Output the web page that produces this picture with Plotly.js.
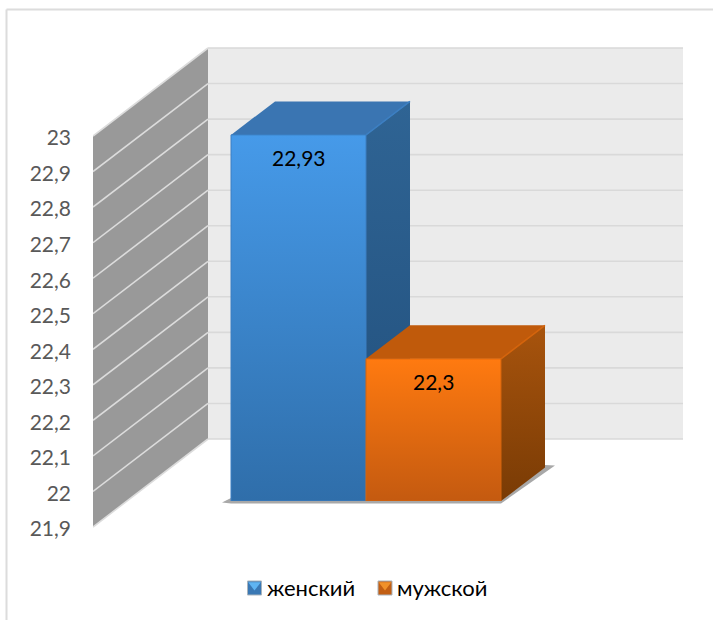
<!DOCTYPE html>
<html>
<head>
<meta charset="utf-8">
<script src="https://cdn.plot.ly/plotly-3.0.1.min.js"></script>
<style>html,body{margin:0;padding:0;background:#fff}#chart{width:713px;height:620px}</style>
</head>
<body>
<div id="chart"></div>
<script>
// Series
const seriesNames = ['женский', 'мужской'];
const seriesValues = [22.93, 22.3];
const tickValues = [21.9, 22, 22.1, 22.2, 22.3, 22.4, 22.5, 22.6, 22.7, 22.8, 22.9, 23];

// Pseudo-3D projection, all in screen pixels
const W = 713, H = 620;
const plotL = 93, plotT = 30, plotB = 612;
const pxPerUnit = 355.45, pxPerBar = 135;
const axisMin = 21.9, axisMax = 23;
const wallFrontBase = 527, barBase = 501, firstBarLeft = 231;
const wallDx = 115, wallDy = 88, wallRight = 683;
const barDx = 44, barDy = 33.5;

// px helpers for the shared x axis and the wall y axis
const xOf = px => (px - firstBarLeft) / pxPerBar - 0.5;
const yOf = px => axisMin + (wallFrontBase - px) / pxPerUnit;
const dxOf = px => px / pxPerBar;
const dyOf = px => px / pxPerUnit;

const traces = [];
const poly = (xs, ys, yaxis, extra) => traces.push(Object.assign({
  type: 'scatter', mode: 'lines', x: xs.concat(xs[0]), y: ys.concat(ys[0]),
  yaxis: yaxis, fill: 'toself', line: {width: 0}, hoverinfo: 'skip', showlegend: false
}, extra));
const seg = (xs, ys, yaxis, color, width) => traces.push({
  type: 'scatter', mode: 'lines', x: xs, y: ys, yaxis: yaxis,
  line: {color: color, width: width}, hoverinfo: 'skip', showlegend: false
});
const vgrad = (top, bottom) => ({
  fillgradient: {type: 'vertical', colorscale: [[0, bottom], [1, top]]}
});

// Side wall and back wall
const x0 = xOf(plotL), x1 = xOf(plotL + wallDx), x2 = xOf(wallRight);
const wallLift = dyOf(wallDy);
poly([x0, x1, x1, x0], [axisMin, axisMin + wallLift, axisMax + wallLift, axisMax], 'y', {fillcolor: '#999999'});
poly([x1, x2, x2, x1], [axisMin + wallLift, axisMin + wallLift, axisMax + wallLift, axisMax + wallLift], 'y', {fillcolor: '#ebebeb'});

// Gridlines run along both walls
tickValues.forEach(v => {
  seg([x0, x1], [v, v + wallLift], 'y', '#dcdcdc', 1.6);
  seg([x1, x2], [v + wallLift, v + wallLift], 'y', '#d9d9d9', 1.6);
});

// Soft floor shadow below the bars
const barsRight = firstBarLeft + 2 * pxPerBar;
poly([222, 231, barsRight, barsRight + barDx + 10, barsRight + barDx, 231].map(xOf),
     [502.5, 503.5, 503.5, 465.5, 465, 498].map(yOf), 'y', {fillcolor: '#a8a8a8'});

// Bars: solid marks with shaded faces projected from the same values
const faces = [
  {front: ['#469ae9', '#2f6eaa'], top: '#3a75b2', side: ['#2f6494', '#214f7c'], edge: '#3c7fc2',
   swatch: '#3a78b4', swatchTip: '#5fb4f2'},
  {front: ['#ff7a10', '#c45a10'], top: '#c05a0b', side: ['#a8540d', '#793b05'], edge: '#d4640c',
   swatch: '#c25f14', swatchTip: '#f0912a'}
];
seriesValues.forEach((v, i) => {
  traces.push({
    type: 'bar', x: [i], y: [v], width: [1], yaxis: 'y2', name: seriesNames[i],
    marker: {color: faces[i].front[0], line: {width: 0}}, showlegend: false, hoverinfo: 'name+y'
  });
});
seriesValues.forEach((v, i) => {
  const l = i - 0.5, r = i + 0.5, d = dxOf(barDx), u = dyOf(barDy), f = faces[i];
  poly([r, r + d, r + d, r], [axisMin, axisMin + u, v + u, v], 'y2', vgrad(f.side[0], f.side[1]));
  poly([l, r, r + d, l + d], [v, v, v + u, v + u], 'y2', {fillcolor: f.top});
  poly([l, r, r, l], [axisMin, axisMin, v, v], 'y2',
       Object.assign(vgrad(f.front[0], f.front[1]), {line: {width: 1, color: f.edge}}));
  seg([r, r + d], [v, v + u], 'y2', f.edge, 1.5);
});

// Legend row: bevelled swatches followed by their names
const legendY = 588;
const legendSwatchX = [254.5, 385];
const legendTextX = [266, 396];
seriesNames.forEach((name, i) => {
  const f = faces[i];
  traces.push({
    type: 'scatter', mode: 'markers', x: [xOf(legendSwatchX[i])], y: [yOf(legendY)], yaxis: 'y',
    marker: {symbol: 'square', size: 14, color: f.swatch, line: {width: 1, color: '#a9b4bd'}},
    hoverinfo: 'skip', showlegend: false
  });
  traces.push({
    type: 'scatter', mode: 'markers', x: [xOf(legendSwatchX[i])], y: [yOf(legendY - 3)], yaxis: 'y',
    marker: {symbol: 'triangle-down', size: 11, color: f.swatchTip, line: {width: 0}},
    hoverinfo: 'skip', showlegend: false
  });
});

const fmt = v => String(v).replace('.', ',');
const plotH = plotB - plotT;
const paperX = px => (px - plotL) / (W - plotL);
const paperY = px => (plotB - px) / plotH;

const layout = {
  width: W, height: H, paper_bgcolor: '#ffffff', plot_bgcolor: 'rgba(0,0,0,0)',
  margin: {l: plotL, r: 0, t: plotT, b: H - plotB, autoexpand: false},
  font: {family: 'Lato, sans-serif', size: 21, color: '#595959'},
  separators: ', ', barmode: 'overlay', showlegend: false,
  xaxis: {visible: false, range: [xOf(plotL), xOf(W)], fixedrange: true},
  yaxis: {
    domain: [0, 1],
    range: [yOf(plotB), yOf(plotT)],
    tickmode: 'array', tickvals: tickValues, ticktext: tickValues.map(fmt),
    showgrid: false, zeroline: false, showline: false, ticks: '', ticklabelstandoff: 21,
    ticklabelshift: 2,
    tickfont: {size: 21, color: '#595959'}, fixedrange: true
  },
  yaxis2: {
    domain: [(plotB - barBase) / plotH, 1], anchor: 'x', visible: false,
    range: [axisMin, axisMin + dyOf(barBase - plotT)], fixedrange: true
  },
  annotations: seriesValues.map((v, i) => ({
    x: i, y: v, xref: 'x', yref: 'y2', yshift: -23, showarrow: false, yanchor: 'middle',
    text: fmt(v), font: {size: 21, color: '#000000'}
  })).concat(seriesNames.map((name, i) => ({
    x: xOf(legendTextX[i]), y: yOf(legendY - 1), xref: 'x', yref: 'y', showarrow: false,
    xanchor: 'left', yanchor: 'middle', xshift: 0, borderpad: 0,
    text: name, font: {size: 22, color: '#000000'}
  }))),
  shapes: [
    {type: 'line', xref: 'paper', yref: 'paper', layer: 'below',
     x0: paperX(6.5), x1: paperX(6.5), y0: paperY(625), y1: paperY(9.5),
     line: {color: '#dcdcdc', width: 2}},
    {type: 'line', xref: 'paper', yref: 'paper', layer: 'below',
     x0: paperX(6.5), x1: paperX(713), y0: paperY(9.5), y1: paperY(9.5),
     line: {color: '#dcdcdc', width: 2}}
  ]
};

Plotly.newPlot('chart', traces, layout, {displayModeBar: false, staticPlot: true});
</script>
</body>
</html>
